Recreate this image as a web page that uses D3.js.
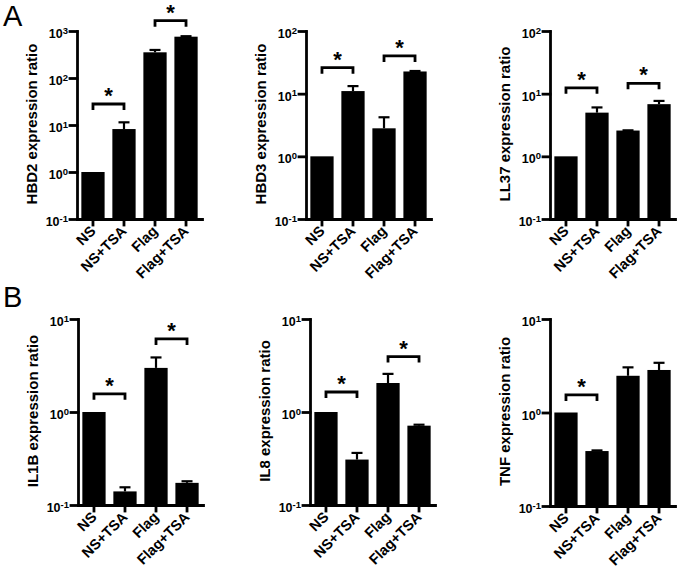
<!DOCTYPE html>
<html>
<head>
<meta charset="utf-8">
<script src="https://cdn.jsdelivr.net/npm/d3@7/dist/d3.min.js"></script>
<style>
  html, body { margin: 0; padding: 0; background: #fff; }
  svg { display: block; }
  text { font-family: "Liberation Sans", Arial, sans-serif; }
</style>
</head>
<body>
<svg id="chart" width="677" height="571"></svg>
<script>
// ---------- data ----------
const categories = ["NS", "NS+TSA", "Flag", "Flag+TSA"];

const hbd2 = [1, 8.2, 352, 757];
const hbd2Err = [1, 11.4, 395, 775];
const hbd2Sig = [[0, 1, 28], [2, 3, 1660]];

const hbd3 = [1, 11.0, 2.8, 22.6];
const hbd3Err = [1, 13.2, 4.2, 23.0];
const hbd3Sig = [[0, 1, 26], [2, 3, 40]];

const ll37 = [1, 4.98, 2.58, 6.8];
const ll37Err = [1, 6.03, 2.6, 7.66];
const ll37Sig = [[0, 1, 12.4], [2, 3, 14.6]];

const il1b = [1, 0.14, 2.98, 0.173];
const il1bErr = [1, 0.155, 3.86, 0.18];
const il1bSig = [[0, 1, 1.57], [2, 3, 6.1]];

const il8 = [1, 0.308, 2.05, 0.713];
const il8Err = [1, 0.363, 2.57, 0.73];
const il8Sig = [[0, 1, 1.64], [2, 3, 3.94]];

const tnf = [1, 0.387, 2.47, 2.85];
const tnfErr = [1, 0.393, 3.04, 3.4];
const tnfSig = [[0, 1, 1.54]];

const panelLetters = ["A", "B"];

// ---------- layout ----------
const panels = [
  { label: "HBD2 expression ratio", values: hbd2, errs: hbd2Err, sig: hbd2Sig, domain: [0.1, 1000], axisX: 77, top: 31, bottom: 219 },
  { label: "HBD3 expression ratio", values: hbd3, errs: hbd3Err, sig: hbd3Sig, domain: [0.1, 100], axisX: 306, top: 31, bottom: 219 },
  { label: "LL37 expression ratio", values: ll37, errs: ll37Err, sig: ll37Sig, domain: [0.1, 100], axisX: 550, top: 31, bottom: 219 },
  { label: "IL1B expression ratio", values: il1b, errs: il1bErr, sig: il1bSig, domain: [0.1, 10], axisX: 78, top: 319, bottom: 505 },
  { label: "IL8 expression ratio", values: il8, errs: il8Err, sig: il8Sig, domain: [0.1, 10], axisX: 310, top: 319, bottom: 505 },
  { label: "TNF expression ratio", values: tnf, errs: tnfErr, sig: tnfSig, domain: [0.1, 10], axisX: 550, top: 319, bottom: 506 }
];

const svg = d3.select("#chart");
svg.append("rect").attr("width", 677).attr("height", 571).attr("fill", "#fff");

svg.append("text").attr("x", 3).attr("y", 26).attr("font-size", 29).text(panelLetters[0]);
svg.append("text").attr("x", 3).attr("y", 307).attr("font-size", 29).text(panelLetters[1]);

panels.forEach(p => {
  const g = svg.append("g");
  const y = d3.scaleLog().domain(p.domain).range([p.bottom, p.top]);
  const x = d3.scaleBand().domain(categories)
    .range([p.axisX, p.axisX + 125]).paddingInner(0.25).paddingOuter(0.14);
  const cx = c => x(c) + x.bandwidth() / 2;

  // bars
  g.selectAll("rect.bar").data(categories).join("rect")
    .attr("class", "bar")
    .attr("x", c => x(c))
    .attr("width", x.bandwidth())
    .attr("y", (c, i) => y(p.values[i]))
    .attr("height", (c, i) => p.bottom - y(p.values[i]))
    .attr("fill", "#000");

  // error bars (upper only)
  categories.forEach((c, i) => {
    if (p.errs[i] > p.values[i]) {
      g.append("line").attr("x1", cx(c)).attr("x2", cx(c))
        .attr("y1", y(p.values[i])).attr("y2", y(p.errs[i]))
        .attr("stroke", "#000").attr("stroke-width", 2.2);
      g.append("line").attr("x1", cx(c) - 5.5).attr("x2", cx(c) + 5.5)
        .attr("y1", y(p.errs[i])).attr("y2", y(p.errs[i]))
        .attr("stroke", "#000").attr("stroke-width", 2.2);
    }
  });

  // y axis
  const decades = [];
  for (let e = Math.round(Math.log10(p.domain[0])); e <= Math.round(Math.log10(p.domain[1])); e++) decades.push(e);
  const yAxis = d3.axisLeft(y).tickValues(decades.map(e => Math.pow(10, e)))
    .tickFormat("").tickSize(7).tickSizeOuter(0);
  const ya = g.append("g").attr("transform", `translate(${p.axisX},0)`).call(yAxis);
  ya.selectAll("path, line").attr("stroke", "#000").attr("stroke-width", 2.8).attr("stroke-linecap", "square");

  decades.forEach(e => {
    const t = g.append("text")
      .attr("x", p.axisX - 9).attr("y", y(Math.pow(10, e)) + 7)
      .attr("text-anchor", "end").attr("font-weight", "bold").attr("font-size", 12.5);
    t.append("tspan").text("10");
    t.append("tspan").attr("dy", -4.5).attr("font-size", 9.5).text(String(e));
  });

  // x axis
  const xAxis = d3.axisBottom(x).tickFormat("").tickSize(6).tickSizeOuter(0);
  const xa = g.append("g").attr("transform", `translate(0,${p.bottom})`).call(xAxis);
  xa.selectAll("path, line").attr("stroke", "#000").attr("stroke-width", 2.8).attr("stroke-linecap", "square");

  categories.forEach(c => {
    const ax = cx(c) + 3.5, ay = p.bottom + 13;
    g.append("text")
      .attr("transform", `translate(${ax},${ay}) rotate(-45)`)
      .attr("text-anchor", "end").attr("font-weight", "bold").attr("font-size", 14.5)
      .text(c);
  });

  // y label
  g.append("text")
    .attr("transform", `translate(${p.axisX - 40},${(p.top + p.bottom) / 2 - 1}) rotate(-90)`)
    .attr("text-anchor", "middle").attr("font-weight", "bold").attr("font-size", 15)
    .text(p.label);

  // significance brackets
  p.sig.forEach(([a, b, lvl]) => {
    const x1 = cx(categories[a]), x2 = cx(categories[b]), yy = y(lvl);
    g.append("path")
      .attr("d", `M${x1},${yy + 6}V${yy}H${x2}V${yy + 6}`)
      .attr("fill", "none").attr("stroke", "#000").attr("stroke-width", 2.8);
    g.append("text")
      .attr("x", (x1 + x2) / 2).attr("y", yy - 1)
      .attr("text-anchor", "middle").attr("font-weight", "bold").attr("font-size", 22)
      .text("*");
  });
});
</script>
</body>
</html>
